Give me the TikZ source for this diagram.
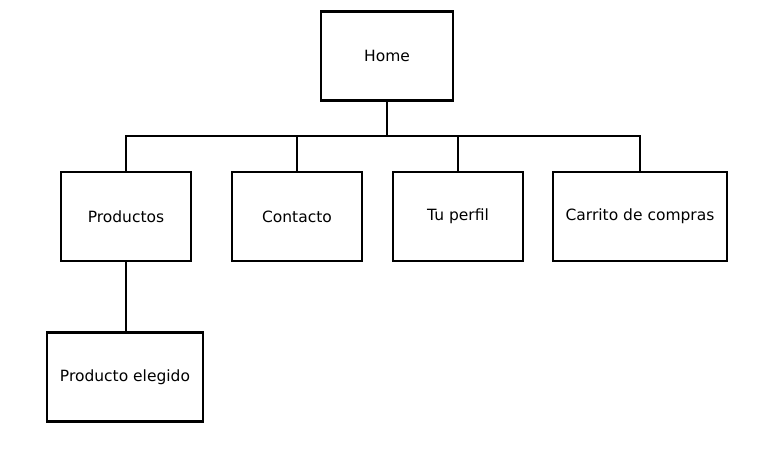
\documentclass[tikz,border=0pt]{standalone}
\usepackage{fontspec}
\setmainfont{DejaVu Sans}
\begin{document}
\begin{tikzpicture}[x=1pt,y=-1pt,
  pagebox/.style={draw=black,line width=2.8pt,fill=white,minimum height=89pt,inner sep=0pt,
    font=\fontsize{15.5}{18}\selectfont,text=black},
  link/.style={draw=black,line width=2pt}]
\useasboundingbox (0,0) rectangle (761,471);
\node[pagebox,minimum width=132pt] (home) at (387,56) {Home};
\node[pagebox,minimum width=130pt] (prod) at (126,216.5) {Productos};
\node[pagebox,minimum width=130pt] (cont) at (297,216.5) {Contacto};
\node[pagebox,minimum width=130pt] (perf) at (458,216.5) {Tu perfil};
\node[pagebox,minimum width=174pt] (cart) at (640,216.5) {Carrito de compras};
\node[pagebox,minimum width=156pt] (eleg) at (125,377) {Producto elegido};
\coordinate (bus) at (387,136);
\draw[link] (home.south) -- (bus);
\draw[link] (prod.north) |- (bus) -| (cart.north);
\draw[link] (cont.north) -- (cont.north |- bus);
\draw[link] (perf.north) -- (perf.north |- bus);
\draw[link] (prod.south) -- (prod.south |- eleg.north);
\end{tikzpicture}
\end{document}
